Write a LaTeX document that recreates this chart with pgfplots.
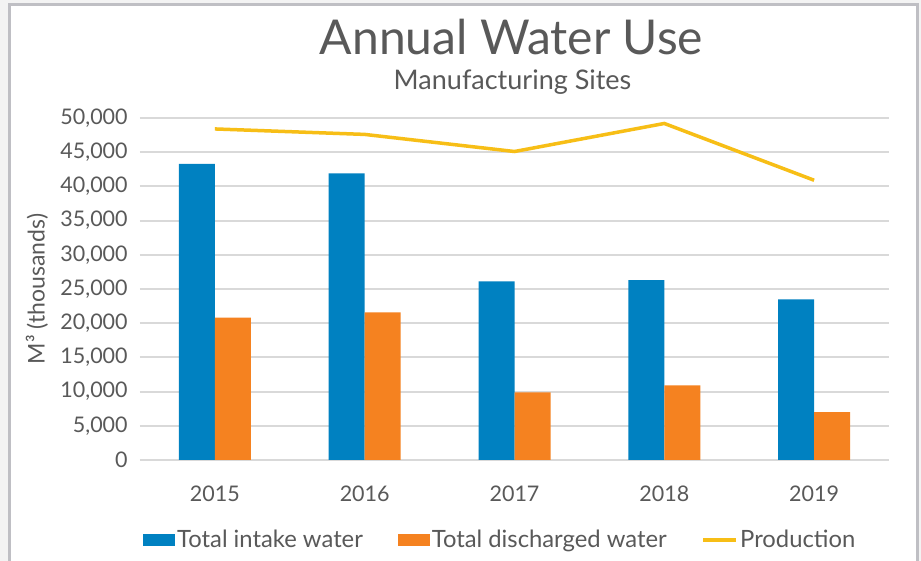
\documentclass[border=0pt]{standalone}
\usepackage{fontspec}
\setmainfont{Lato}
\usepackage{pgfplots}
\pgfplotsset{compat=1.18}
\definecolor{cblue}{HTML}{0081C1}
\definecolor{corange}{HTML}{F58220}
\definecolor{cyellow}{HTML}{F7BE16}
\definecolor{ctext}{HTML}{595959}
\definecolor{cgrid}{HTML}{D9D9D9}
\definecolor{cframe}{HTML}{BFBFC4}
\definecolor{cbg}{HTML}{F3F3F3}
\begin{document}
\begin{tikzpicture}[x=1pt,y=1pt]
\useasboundingbox (0,0) rectangle (921,561);
\fill[cbg] (0,0) rectangle (921,561);
\filldraw[fill=white, draw=cframe, line width=3pt] (9,-10) rectangle (917,556);
\node[anchor=base, text=ctext, inner sep=0pt, font=\fontsize{48}{56}\selectfont] at (511.5,506) {Annual Water Use};
\node[anchor=base, text=ctext, inner sep=0pt, font=\fontsize{27}{32}\selectfont] at (512.5,471) {Manufacturing Sites};
\begin{axis}[
  at={(140pt,101pt)}, anchor=south west,
  scale only axis, width=749pt, height=342pt,
  xmin=-0.5, xmax=4.5, ymin=0, ymax=50000,
  axis lines=left, axis line style={draw=none}, tick style={draw=none},
  ymajorgrids, major grid style={cgrid, line width=2pt},
  xtick={0,1,2,3,4}, xticklabels={2015,2016,2017,2018,2019},
  ytick={0,5000,...,50000},
  scaled y ticks=false,
  /pgf/number format/.cd, 1000 sep={,}, assume math mode=true, /pgfplots/.cd,
  ticklabel style={font=\fontsize{21.5}{25}\selectfont, text=ctext},
  yticklabel style={anchor=east, inner sep=0pt, xshift=-10pt},
  xticklabel style={anchor=north, inner sep=0pt, yshift=-24pt},
  every axis y label/.style={at={(axis description cs:-0.1375,0.5)}, rotate=90, anchor=center, font=\fontsize{23}{27}\selectfont, text=ctext},
  ylabel={M³ (thousands)},
  legend columns=3,
  legend cell align=left,
  legend style={at={(axis description cs:0.004,-0.2335)}, anchor=west, draw=none, fill=none, inner sep=0pt,
    font=\fontsize{23.8}{28}\selectfont, text=ctext, nodes={inner xsep=2pt, inner ysep=1pt},
    /tikz/every even column/.append style={column sep=33pt}},
]
\addplot[ybar, bar width=36pt, bar shift=-18pt, fill=cblue, draw=none,
  legend image code/.code={\fill[cblue] (0pt,-6pt) rectangle (32pt,6pt);}]
  coordinates {(0,43300) (1,41900) (2,26100) (3,26300) (4,23500)};
\addlegendentry{Total intake water}
\addplot[ybar, bar width=36pt, bar shift=18pt, fill=corange, draw=none,
  legend image code/.code={\fill[corange] (0pt,-6pt) rectangle (32pt,6pt);}]
  coordinates {(0,20800) (1,21600) (2,9900) (3,10900) (4,7000)};
\addlegendentry{Total discharged water}
\addplot[cyellow, line width=3.5pt, mark=none,
  legend image code/.code={\draw[cyellow, line width=3.5pt] (0pt,0pt) -- (33pt,0pt);}]
  coordinates {(0,48400) (1,47600) (2,45100) (3,49200) (4,40900)};
\addlegendentry{Production}
\end{axis}
\end{tikzpicture}
\end{document}
